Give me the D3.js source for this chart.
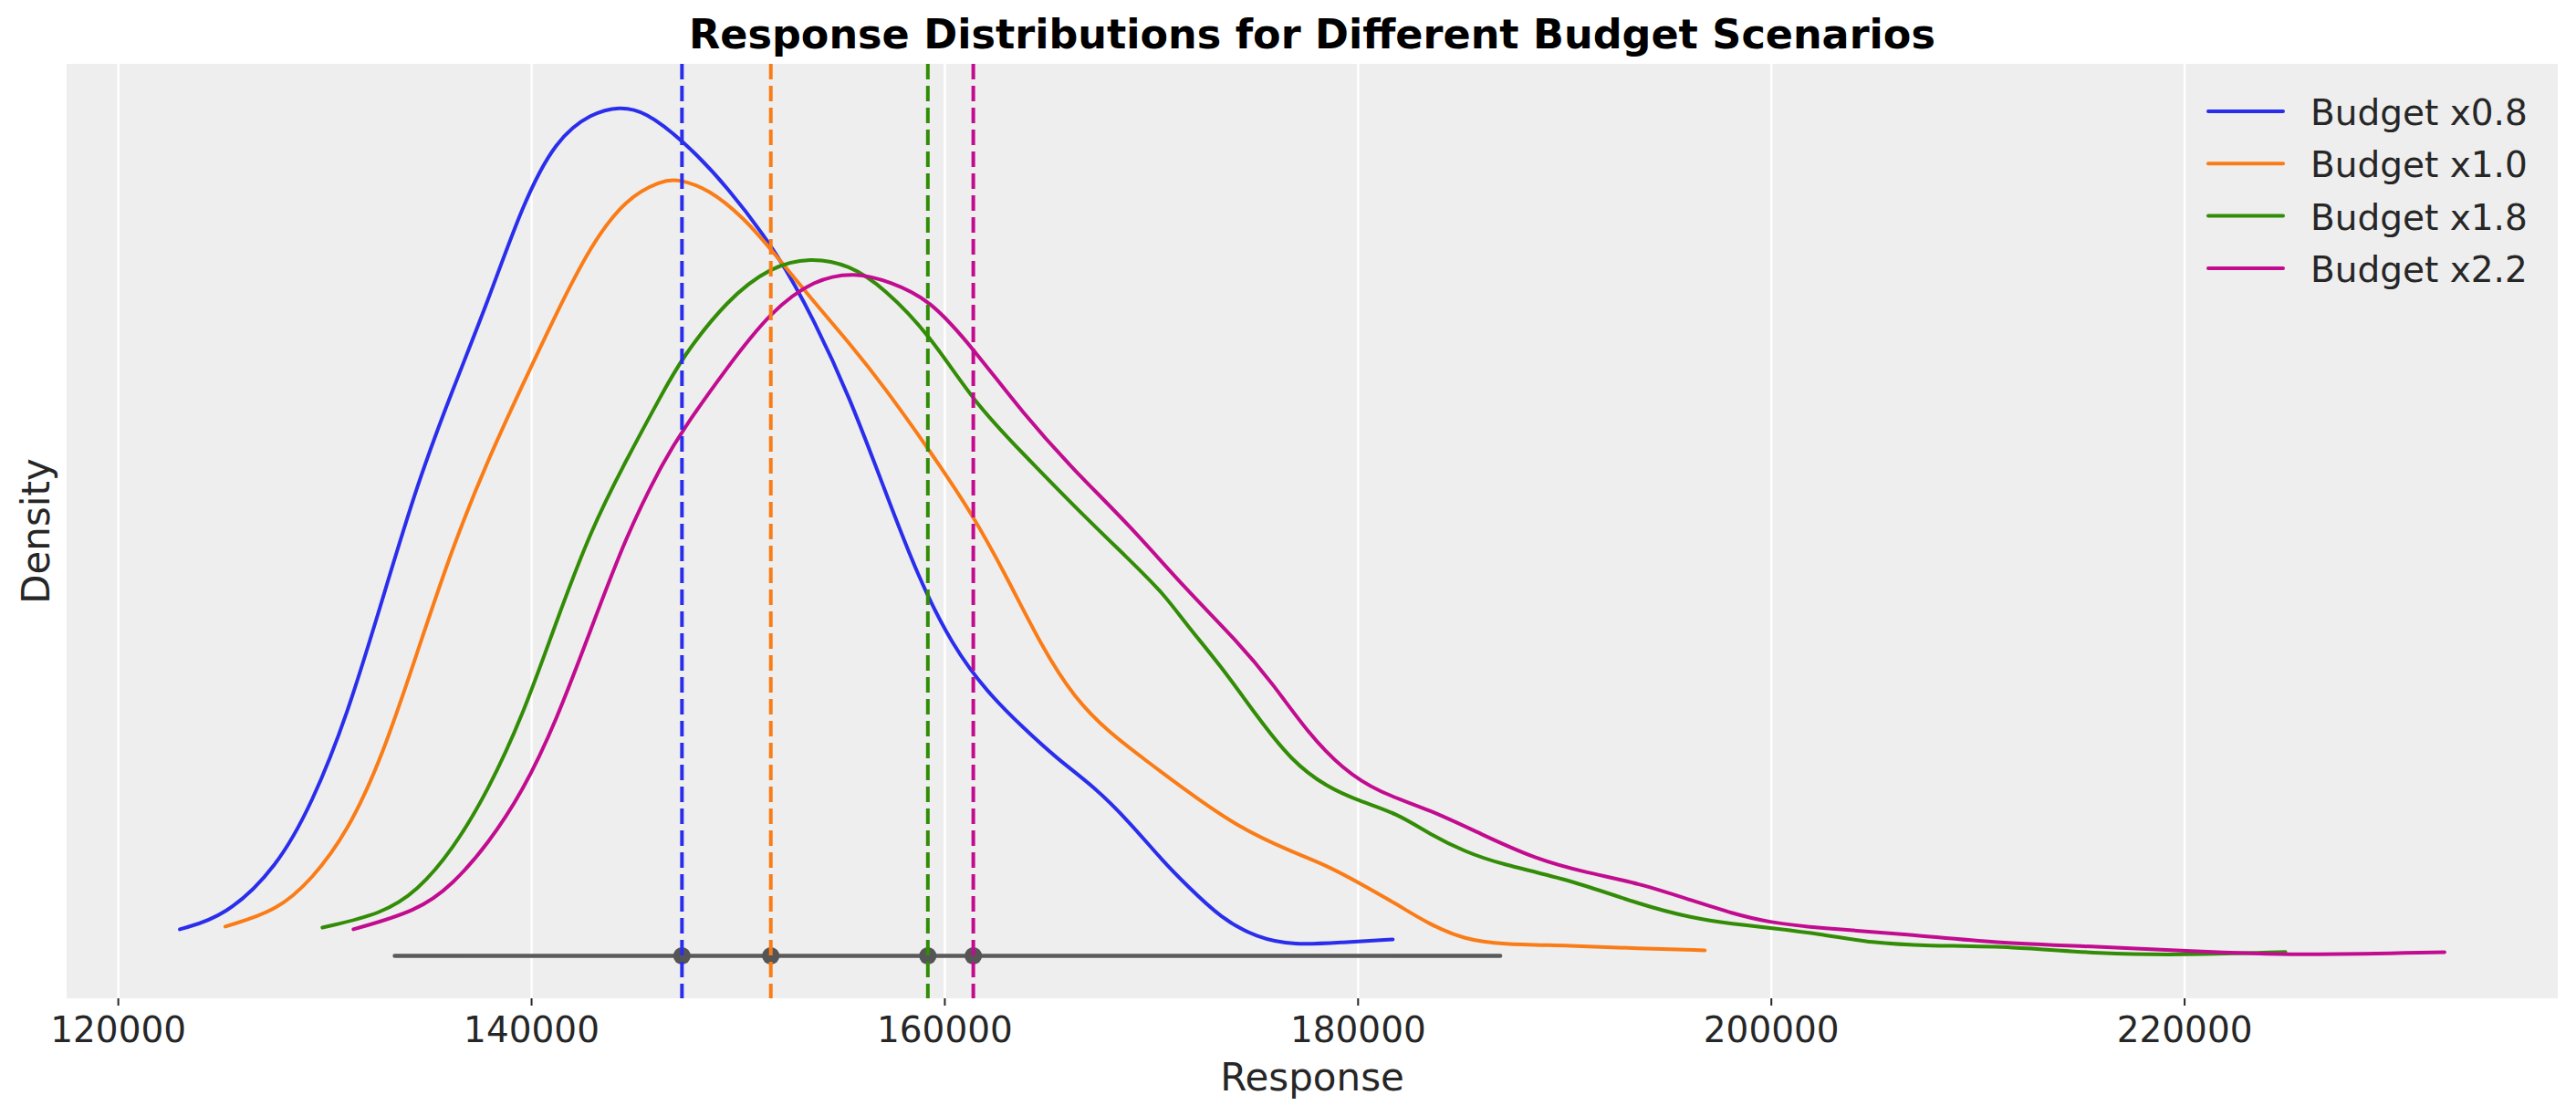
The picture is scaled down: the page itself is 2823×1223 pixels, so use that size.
<!DOCTYPE html>
<html>
<head>
<meta charset="utf-8">
<script src="https://cdn.jsdelivr.net/npm/d3@7"></script>
<style>
  body { margin: 0; background: #fff; }
  svg { display: block; font-family: "DejaVu Sans", sans-serif; }
  .tick text { fill: #262626; }
</style>
</head>
<body>
<div id="chart"></div>
<script>

// Scenario names and line colours
let scenarios = ["Budget x0.8", "Budget x1.0", "Budget x1.8", "Budget x2.2"];
let colors = ["#2a2eec", "#fa7c17", "#328c06", "#c10c90"];

// KDE curves (density in units of 1e-5)
let responseX08 = [123000, 125200, 127700, 129400, 131100, 132800, 134500, 136200, 137900, 139600, 141200, 142900, 144300, 145500, 147300, 149500, 152000, 153700, 155400, 157100, 158700, 160400, 162100, 163800, 165500, 167200, 168900, 170600, 171700, 173400, 175100, 176900, 179300, 181700];
let densityX08 = [0.125, 0.185, 0.417, 0.718, 1.131, 1.677, 2.227, 2.666, 3.078, 3.543, 3.844, 3.968, 4.000, 3.977, 3.844, 3.624, 3.298, 2.992, 2.635, 2.197, 1.788, 1.457, 1.238, 1.075, 0.924, 0.800, 0.636, 0.443, 0.335, 0.176, 0.086, 0.049, 0.064, 0.077];

let responseX10 = [125200, 127700, 129400, 131100, 132800, 134500, 136200, 137900, 139600, 141200, 142900, 144600, 146300, 147100, 148600, 150300, 151600, 153700, 155400, 157100, 159300, 161300, 163000, 164700, 166300, 168000, 169700, 171700, 174200, 176800, 178500, 180100, 181900, 183500, 185200, 186900, 190300, 193600, 196800];
let densityX10 = [0.138, 0.211, 0.361, 0.580, 0.937, 1.432, 1.926, 2.334, 2.691, 3.022, 3.349, 3.568, 3.650, 3.659, 3.611, 3.474, 3.328, 3.078, 2.885, 2.678, 2.377, 2.089, 1.788, 1.457, 1.212, 1.049, 0.924, 0.778, 0.606, 0.490, 0.426, 0.342, 0.243, 0.146, 0.077, 0.054, 0.049, 0.034, 0.026];

let responseX18 = [129900, 132800, 134500, 136200, 137900, 139600, 141200, 142900, 144600, 146300, 147300, 149500, 151600, 153500, 155400, 157100, 159300, 161400, 163800, 166300, 168900, 170600, 171700, 173400, 175100, 176800, 178500, 180100, 181900, 183500, 185200, 186900, 190300, 193600, 196200, 198200, 199800, 202400, 204900, 207500, 211700, 215900, 220100, 224900];
let densityX18 = [0.133, 0.198, 0.305, 0.499, 0.774, 1.131, 1.569, 2.008, 2.334, 2.640, 2.816, 3.091, 3.246, 3.289, 3.255, 3.143, 2.923, 2.610, 2.365, 2.115, 1.870, 1.707, 1.561, 1.363, 1.131, 0.917, 0.795, 0.728, 0.671, 0.572, 0.490, 0.432, 0.358, 0.243, 0.177, 0.150, 0.133, 0.103, 0.060, 0.047, 0.044, 0.009, 0.004, 0.018];

let responseX22 = [131400, 134500, 136200, 137900, 139600, 141200, 142900, 144600, 146300, 147300, 149500, 151600, 153700, 155700, 157400, 159300, 161400, 163800, 166300, 168900, 171700, 174200, 175900, 177600, 179300, 181000, 183500, 186000, 188600, 191100, 193600, 196200, 198200, 199800, 202400, 206600, 210800, 215900, 220200, 225400, 232600];
let densityX22 = [0.125, 0.211, 0.335, 0.525, 0.774, 1.101, 1.539, 1.978, 2.309, 2.472, 2.773, 3.035, 3.186, 3.220, 3.173, 3.091, 2.859, 2.554, 2.283, 2.034, 1.724, 1.479, 1.281, 1.049, 0.877, 0.770, 0.688, 0.572, 0.456, 0.391, 0.342, 0.260, 0.198, 0.159, 0.129, 0.103, 0.060, 0.043, 0.023, 0.001, 0.017];

// Means (dashed lines + dots) and the interval bar
let means = [147300, 151600, 159200, 161400];
let hdiInterval = [133400, 186900];

let xTicks = [120000, 140000, 160000, 180000, 200000, 220000];

let responses = [responseX08, responseX10, responseX18, responseX22];
let densities = [densityX08, densityX10, densityX18, densityX22];

///////////////////////////////////////////
//// Dimensions, scales and generators ////
///////////////////////////////////////////

let width = 2823;
let height = 1223;
let margin = { top: 70, left: 73, right: 20, bottom: 129 };
let chartWidth = width - margin.left - margin.right;
let chartHeight = height - margin.top - margin.bottom;

let series = scenarios.map((name, i) => ({
  name: name,
  color: colors[i],
  mean: means[i],
  points: responses[i].map((r, j) => ({ x: r, y: densities[i][j] }))
}));

// matplotlib-like 5% margins
let allX = responses.flat();
let minX = d3.min(allX), maxX = d3.max(allX);
let padX = (maxX - minX) * 0.05;
let maxY = d3.max(densities.flat());
let padY = maxY * 0.05;

let xPositionScale = d3.scaleLinear()
  .domain([minX - padX, maxX + padX])
  .range([0, chartWidth]);

let yPositionScale = d3.scaleLinear()
  .domain([-padY, maxY + padY])
  .range([chartHeight, 0]);

let kdeLine = d3.line()
  .curve(d3.curveBasis)
  .x(d => xPositionScale(d.x))
  .y(d => yPositionScale(d.y));

//////////////////////////
/// Building the chart ///
//////////////////////////

let svg = d3.select("#chart")
  .append("svg")
  .attr("width", width)
  .attr("height", height);

let chart = svg.append("g")
  .attr("transform", "translate(" + margin.left + "," + margin.top + ")");

// Background
chart.append("rect")
  .attr("width", chartWidth)
  .attr("height", chartHeight)
  .attr("fill", "#eeeeee");

// Vertical grid
let grid = chart.append("g")
  .call(d3.axisBottom(xPositionScale).tickValues(xTicks).tickSize(chartHeight).tickFormat(""));
grid.select(".domain").remove();
grid.selectAll("line")
  .attr("y1", 0)
  .attr("y2", chartHeight)
  .attr("stroke", "#ffffff")
  .attr("stroke-width", 2.5);

// KDE curves
chart.selectAll(".kde")
  .data(series)
  .enter().append("path")
  .attr("class", "kde")
  .attr("fill", "none")
  .attr("stroke", d => d.color)
  .attr("stroke-width", 4)
  .attr("stroke-linecap", "round")
  .attr("d", d => kdeLine(d.points));

// Interval bar at density 0
chart.append("line")
  .attr("x1", xPositionScale(hdiInterval[0]))
  .attr("x2", xPositionScale(hdiInterval[1]))
  .attr("y1", yPositionScale(0))
  .attr("y2", yPositionScale(0))
  .attr("stroke", "#5a5a5a")
  .attr("stroke-width", 4.5)
  .attr("stroke-linecap", "round");

chart.selectAll(".mean-dot")
  .data(series)
  .enter().append("circle")
  .attr("class", "mean-dot")
  .attr("cx", d => xPositionScale(d.mean))
  .attr("cy", yPositionScale(0))
  .attr("r", 9.5)
  .attr("fill", "#555555");

// Dashed mean lines
chart.selectAll(".mean-line")
  .data(series)
  .enter().append("line")
  .attr("class", "mean-line")
  .attr("x1", d => xPositionScale(d.mean))
  .attr("x2", d => xPositionScale(d.mean))
  .attr("y1", 0)
  .attr("y2", chartHeight)
  .attr("stroke", d => d.color)
  .attr("stroke-width", 4)
  .attr("stroke-dasharray", "17,7");

// X axis
let xAxis = d3.axisBottom(xPositionScale)
  .tickValues(xTicks)
  .tickSize(8)
  .tickPadding(12)
  .tickFormat(d3.format("d"));

let xAxisG = chart.append("g")
  .attr("transform", "translate(0," + chartHeight + ")")
  .call(xAxis);
xAxisG.select(".domain").remove();
xAxisG.selectAll("line").attr("stroke", "#262626").attr("stroke-width", 2);
xAxisG.selectAll("text")
  .attr("font-size", 39)
  .attr("font-family", "DejaVu Sans");

// Axis labels and title
svg.append("text")
  .attr("x", margin.left + chartWidth / 2)
  .attr("y", 1195)
  .attr("text-anchor", "middle")
  .attr("font-size", 42)
  .attr("fill", "#262626")
  .text("Response");

svg.append("text")
  .attr("transform", "translate(54," + (margin.top + chartHeight / 2) + ") rotate(-90)")
  .attr("text-anchor", "middle")
  .attr("font-size", 42)
  .attr("fill", "#262626")
  .text("Density");

svg.append("text")
  .attr("x", margin.left + chartWidth / 2)
  .attr("y", 53)
  .attr("text-anchor", "middle")
  .attr("font-size", 44.5)
  .attr("font-weight", "bold")
  .attr("fill", "#000000")
  .text("Response Distributions for Different Budget Scenarios");

// Legend
let legend = svg.append("g")
  .attr("transform", "translate(2420,122)");

let legendItems = legend.selectAll(".legend-item")
  .data(series)
  .enter().append("g")
  .attr("class", "legend-item")
  .attr("transform", (d, i) => "translate(0," + (i * 57.3) + ")");

legendItems.append("line")
  .attr("x1", 0)
  .attr("x2", 82)
  .attr("stroke", d => d.color)
  .attr("stroke-width", 4)
  .attr("stroke-linecap", "round");

legendItems.append("text")
  .attr("x", 112)
  .attr("y", 15)
  .attr("font-size", 39)
  .attr("fill", "#262626")
  .text(d => d.name);

</script>
</body>
</html>
